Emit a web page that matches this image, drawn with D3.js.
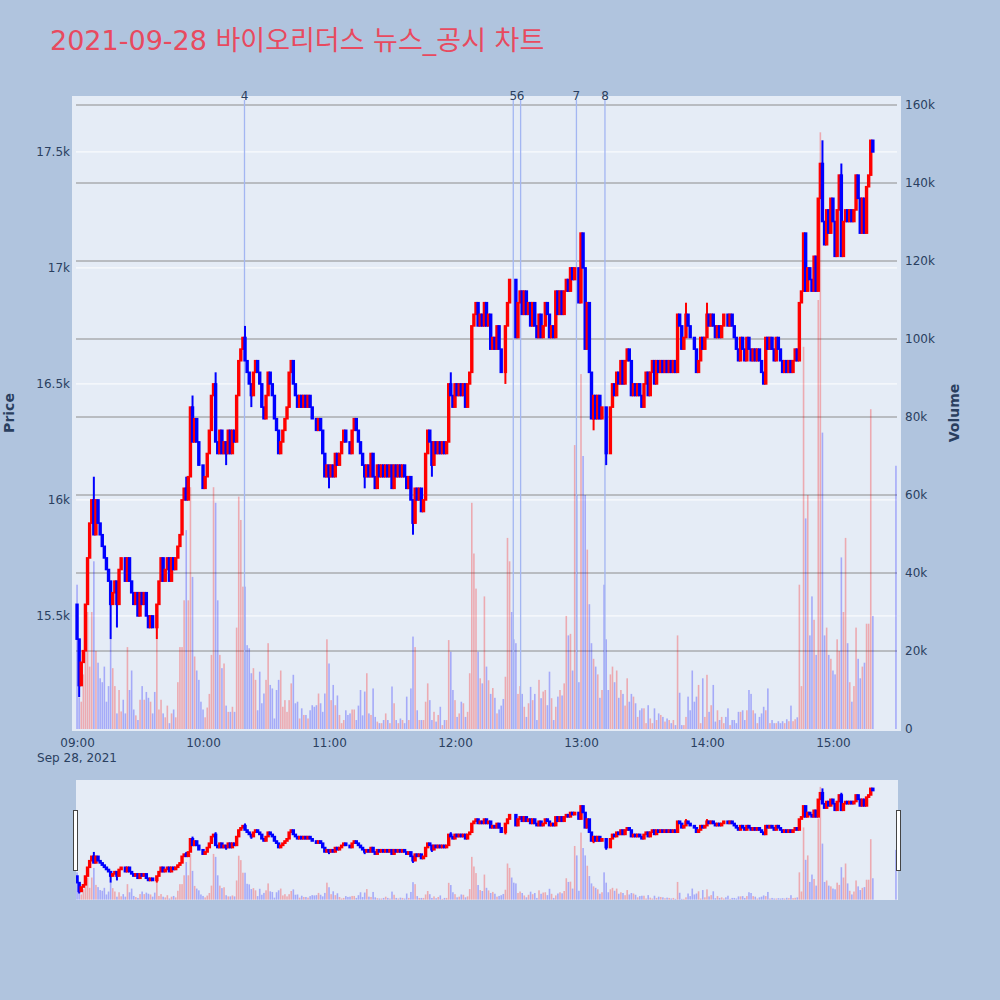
<!DOCTYPE html>
<html>
<head>
<meta charset="utf-8">
<script src="https://cdn.jsdelivr.net/npm/d3@7"></script>
<style>
  body { margin: 0; background: #b0c4de; }
  svg { display: block; font-family: "DejaVu Sans", "Noto Sans CJK KR", sans-serif; }
</style>
</head>
<body>
<script>
const chartTitle = "2021-09-28 바이오리더스 뉴스_공시 차트";
const tradeDate = "2021-09-28";
const sessionStart = "09:00";
const firstOpen = 15550;

// one close per minute from 09:00 (open of a bar = close of the bar before)
const closes = [
  15400,15200,15300,15350,15550,15750,15900,16000,15850,16000,
  15900,15850,15800,15750,15700,15650,15550,15600,15650,15550,
  15700,15750,15750,15650,15750,15650,15600,15550,15600,15500,
  15600,15550,15600,15500,15450,15500,15450,15450,15550,15650,
  15750,15650,15700,15750,15650,15750,15700,15750,15800,15850,
  16000,16050,16000,16100,16400,16250,16350,16250,16150,16150,
  16050,16100,16200,16300,16450,16500,16250,16200,16300,16200,
  16250,16200,16300,16200,16300,16250,16450,16600,16650,16700,
  16600,16550,16500,16450,16550,16600,16550,16500,16400,16350,
  16450,16550,16500,16450,16350,16300,16200,16250,16300,16350,
  16400,16550,16600,16500,16450,16400,16450,16400,16450,16400,
  16450,16400,16350,16350,16300,16350,16300,16200,16100,16150,
  16100,16150,16100,16200,16150,16200,16250,16300,16250,16250,
  16200,16300,16350,16300,16250,16200,16150,16100,16150,16100,
  16200,16100,16050,16150,16100,16150,16100,16150,16100,16150,
  16050,16150,16100,16150,16100,16150,16100,16050,16100,16000,
  15900,16050,16000,16050,15950,16000,16200,16300,16250,16150,
  16250,16200,16250,16200,16250,16200,16250,16500,16450,16400,
  16500,16450,16500,16450,16500,16400,16500,16550,16750,16800,
  16850,16750,16800,16750,16850,16750,16800,16650,16700,16650,
  16750,16650,16550,16550,16750,16850,16950,16950,16950,16700,
  16850,16900,16800,16900,16800,16850,16750,16850,16750,16700,
  16800,16700,16750,16850,16800,16700,16750,16700,16900,16800,
  16900,16800,16900,16950,16900,17000,16950,17000,17000,16850,
  17150,17000,16650,16850,16550,16350,16450,16350,16450,16350,
  16400,16400,16200,16200,16400,16500,16450,16550,16500,16600,
  16500,16600,16650,16600,16450,16500,16450,16500,16450,16400,
  16500,16550,16450,16550,16600,16500,16600,16550,16600,16550,
  16600,16550,16600,16550,16600,16550,16800,16750,16650,16700,
  16800,16750,16700,16700,16650,16550,16600,16700,16650,16700,
  16800,16750,16800,16750,16700,16750,16700,16750,16800,16800,
  16750,16800,16750,16700,16650,16600,16700,16650,16600,16700,
  16650,16600,16650,16600,16650,16600,16550,16500,16700,16650,
  16700,16650,16600,16700,16650,16600,16550,16600,16550,16600,
  16550,16600,16650,16600,16850,16900,17150,16900,17000,16950,
  16900,17050,16900,17300,17450,17200,17100,17250,17150,17300,
  17200,17050,17250,17400,17050,17200,17250,17200,17250,17200,
  17250,17400,17300,17150,17300,17150,17350,17400,17550,17500
];

// volume per minute, thousands of shares
const volumes = [
  37,8,7,14,21,30,16,30,43,20,
  17,13,12,16,7,11,23,15.6,11,4,
  10,4.5,7.5,4,21,10,15,5,3.5,2.3,
  7.5,11,7.5,9.5,8,7,4,9.5,23,5,
  7.5,4,3,6,1.5,4,5,3,12,21,
  21,33,51,33,62,39,18.6,15,12.6,7,
  5,3,5.5,9,19,62,58,33,19,15.6,
  16.8,6,4.4,4.4,5.7,4.4,26,59.6,53.6,36.5,
  36.5,21.5,20.7,14.3,15.6,12.6,4.8,14.7,6.6,9.1,
  12.6,22,11.3,10.4,2.7,10,12.6,15,5.7,7.4,
  4.4,7.4,11.7,13.9,6.6,7,2.7,5.3,3.6,3.6,
  2.7,4.8,6.1,5.7,6.1,9.1,6.6,4.4,9.1,23,
  16.8,7.4,11.3,6.1,8.6,3.6,1.5,2.3,4.8,3.6,
  4,5,5,2.3,6,10,3.5,9.6,14.3,4,
  3.6,10.4,3.1,1.9,1.5,1.5,2.3,4,2.3,1.5,
  10.9,6.6,2.3,1.5,2.7,2.3,1.5,8.3,2.3,10.4,
  23.7,21,4.8,2.3,2.3,2.3,7,11.7,7.4,2.3,
  4.4,1.9,3.6,5.7,1,2.3,2.3,22.8,19.8,10,
  7.4,3.1,4,7,6.6,3.1,4.4,14.3,58,45,
  36,19.8,13,11.7,34,16,12.5,9,10.5,8,
  4,5,6,7.7,13.4,49,43,30,23,22,
  9,11,9,5.7,3.1,6.6,10.8,7.4,9,2.3,
  12.6,7.9,9.6,10,6.1,14.7,7.9,2.3,5.7,8.3,
  10,8.6,11.7,29,24,24.4,15,72.8,60,12,
  91,70,60,46,32,22,18,16,14,8,
  10,37,23,10,14,16,12,15,8,10,
  9,6,13,7,9,8.3,6.6,3.1,4.8,5.3,
  5.3,1.5,6.1,2.7,1.5,5.3,2.3,4,3.6,3.1,
  1.9,2.7,2.3,1.5,2.3,1,24,9.3,1,1,
  3.1,8.3,4.8,15,7,8.3,11.3,1.5,13,3.1,
  13.9,4.4,6.1,11.3,1.9,4.8,2.3,3.1,1.5,3.1,
  5.3,1,2.3,2.3,1.5,4.4,4.4,4.8,2.3,4.8,
  10,9,4.8,4,1.5,3.1,4,5.7,4.8,10.4,
  1.5,2.3,1.5,1.5,2,1.5,2,1.5,2.5,2,
  6,2,2.5,3,37,11,98,54,60,24,
  34,28,19,110,153,76,24,26,19,18,
  15,14,23,20,44,30,49,22,12,7,
  11,26,18,13,16,17,27,27,82,29
];

// [minute index, high, low] where the wick sticks out of the body
const wicks = [
  [1, null, 15150], [8, 16100, null], [16, null, 15400], [19, null, 15450],
  [38, null, 15400], [52, 16100, null], [55, 16450, null], [66, 16550, null],
  [71, null, 16150], [80, 16750, null], [83, null, 16400], [120, null, 16050],
  [137, null, 16050], [160, null, 15850], [169, null, 16100], [178, 16550, null],
  [204, null, 16500], [246, null, 16300], [252, null, 16150], [290, 16850, null],
  [300, 16850, null], [355, 17550, null], [364, 17450, null]
];

const closingAuction = { time: "15:30", price: 17400, volume: 67.5 };

const newsTimes = ["10:19:45", "12:27:45", "12:31:15", "12:57:50", "13:11:25"];
const newsLabels = ["4", "5", "6", "7", "8"];

const priceTicks = [15500, 16000, 16500, 17000, 17500];
const volumeTicks = [0, 20, 40, 60, 80, 100, 120, 140, 160];

const upColor = "#ff0000", downColor = "#0000ff";
const textColor = "#2a3f5f";

// ---------- build bars ----------
const parseMin = d3.timeParse("%Y-%m-%d %H:%M");
const parseSec = d3.timeParse("%Y-%m-%d %H:%M:%S");
const t0 = parseMin(tradeDate + " " + sessionStart);

const bars = closes.map((c, i) => {
  const o = i === 0 ? firstOpen : closes[i - 1];
  return { t: d3.timeMinute.offset(t0, i), o: o, c: c, h: Math.max(o, c), l: Math.min(o, c), v: volumes[i] * 1000 };
});
wicks.forEach(([i, h, l]) => {
  if (h !== null) bars[i].h = h;
  if (l !== null) bars[i].l = l;
});
const tAuction = parseMin(tradeDate + " " + closingAuction.time);
bars.push({ t: tAuction, o: closingAuction.price, c: closingAuction.price,
  h: closingAuction.price, l: closingAuction.price, v: closingAuction.volume * 1000 });

// ---------- layout ----------
const svg = d3.select("body").append("svg").attr("width", 1000).attr("height", 1000);
svg.append("rect").attr("width", 1000).attr("height", 1000).attr("fill", "#b0c4de");

const x = d3.scaleTime()
  .domain([d3.timeSecond.offset(t0, -30), d3.timeSecond.offset(tAuction, 30)])
  .range([76, 897]);
const yPrice = d3.scaleLinear().domain([15004, 17741]).range([731, 96]);
const yVol = d3.scaleLinear().domain([0, 160000]).range([729, 105]);

const yPriceMini = d3.scaleLinear().domain(yPrice.domain()).range([900, 780]);
const yVolMini = d3.scaleLinear().domain([yVol.invert(731), yVol.invert(96)]).range([900, 780]);

svg.append("text")
  .attr("x", 50).attr("y", 50)
  .attr("font-size", 27)
  .attr("fill", "#e84a5f")
  .text(chartTitle);

// plot background
svg.append("rect").attr("x", 72).attr("y", 96).attr("width", 829).attr("height", 635).attr("fill", "#e5ecf6");

const grid = svg.append("g");
grid.selectAll(".pg").data(priceTicks).enter().append("line")
  .attr("x1", 76).attr("x2", 897)
  .attr("y1", d => yPrice(d)).attr("y2", d => yPrice(d))
  .attr("stroke", "#ffffff").attr("stroke-width", 1);
grid.selectAll(".vg").data(volumeTicks.filter(d => d > 0)).enter().append("line")
  .attr("x1", 76).attr("x2", 897)
  .attr("y1", d => yVol(d * 1000)).attr("y2", d => yVol(d * 1000))
  .attr("stroke", "#8c8c8c").attr("stroke-width", 1);

function drawVolume(g, yv) {
  g.selectAll(".vol").data(bars).enter().append("rect")
    .attr("x", d => x(d.t) - 0.8)
    .attr("width", 1.6)
    .attr("y", d => yv(d.v))
    .attr("height", d => Math.max(0, yv(0) - yv(d.v)))
    .attr("fill", d => d.c > d.o ? upColor : downColor)
    .attr("fill-opacity", 0.28);
}

function drawCandles(g, yp) {
  const c = g.selectAll(".candle").data(bars).enter().append("g");
  c.append("line")
    .attr("x1", d => x(d.t)).attr("x2", d => x(d.t))
    .attr("y1", d => yp(d.h)).attr("y2", d => yp(d.l))
    .attr("stroke", d => d.c > d.o ? upColor : downColor)
    .attr("stroke-width", 2);
  c.append("rect")
    .attr("x", d => x(d.t) - 0.9)
    .attr("width", 1.8)
    .attr("y", d => yp(Math.max(d.o, d.c)))
    .attr("height", d => Math.abs(yp(d.o) - yp(d.c)))
    .attr("fill", d => d.c > d.o ? upColor : downColor)
    .attr("stroke", d => d.c > d.o ? upColor : downColor)
    .attr("stroke-width", 1.6);
}

drawVolume(svg.append("g"), yVol);

// news markers
const newsX = newsTimes.map(s => x(parseSec(tradeDate + " " + s)));
svg.append("g").selectAll("line").data(newsX).enter().append("line")
  .attr("x1", d => d).attr("x2", d => d)
  .attr("y1", 100).attr("y2", 729)
  .attr("stroke", "#a3b6f2").attr("stroke-width", 1.3);
svg.append("g").selectAll("text").data(newsLabels).enter().append("text")
  .attr("x", (d, i) => newsX[i]).attr("y", 100)
  .attr("text-anchor", "middle").attr("font-size", 12).attr("fill", textColor)
  .text(d => d);

drawCandles(svg.append("g"), yPrice);

// axes
function styleAxis(g) {
  g.select(".domain").remove();
  g.selectAll("text").attr("fill", textColor).attr("font-size", 12)
    .attr("font-family", '"DejaVu Sans", sans-serif');
}
svg.append("g").attr("transform", "translate(76,0)")
  .call(d3.axisLeft(yPrice).tickValues(priceTicks).tickFormat(d3.format("~s")).tickSize(0).tickPadding(6))
  .call(styleAxis);
svg.append("g").attr("transform", "translate(897,0)")
  .call(d3.axisRight(yVol).tickValues(volumeTicks.map(d => d * 1000)).tickFormat(d3.format("~s")).tickSize(0).tickPadding(8))
  .call(styleAxis);
svg.append("g").attr("transform", "translate(0,731)")
  .call(d3.axisBottom(x).ticks(d3.timeHour.every(1)).tickFormat(d3.timeFormat("%H:%M")).tickSize(0).tickPadding(7))
  .call(styleAxis);
svg.append("text")
  .attr("x", x(t0)).attr("y", 762)
  .attr("text-anchor", "middle").attr("font-size", 12).attr("fill", textColor)
  .text(d3.timeFormat("%b %-d, %Y")(t0));

svg.append("text")
  .attr("transform", "translate(14,413) rotate(-90)")
  .attr("text-anchor", "middle").attr("font-size", 14).attr("font-weight", "bold").attr("fill", textColor)
  .text("Price");
svg.append("text")
  .attr("transform", "translate(959,413) rotate(-90)")
  .attr("text-anchor", "middle").attr("font-size", 14).attr("font-weight", "bold").attr("fill", textColor)
  .text("Volume");

// range slider
svg.append("defs").append("clipPath").attr("id", "sliderClip")
  .append("rect").attr("x", 76).attr("y", 780).attr("width", 822).attr("height", 120);
svg.append("rect").attr("x", 76).attr("y", 780).attr("width", 822).attr("height", 120).attr("fill", "#e5ecf6");
const mini = svg.append("g").attr("clip-path", "url(#sliderClip)");
drawVolume(mini.append("g"), yVolMini);
drawCandles(mini.append("g"), yPriceMini);
[73.5, 896.5].forEach(hx => {
  svg.append("rect").attr("x", hx).attr("y", 810.5).attr("width", 4).attr("height", 60)
    .attr("fill", "#ffffff").attr("stroke", "#444444").attr("stroke-width", 1);
});
</script>
</body>
</html>
